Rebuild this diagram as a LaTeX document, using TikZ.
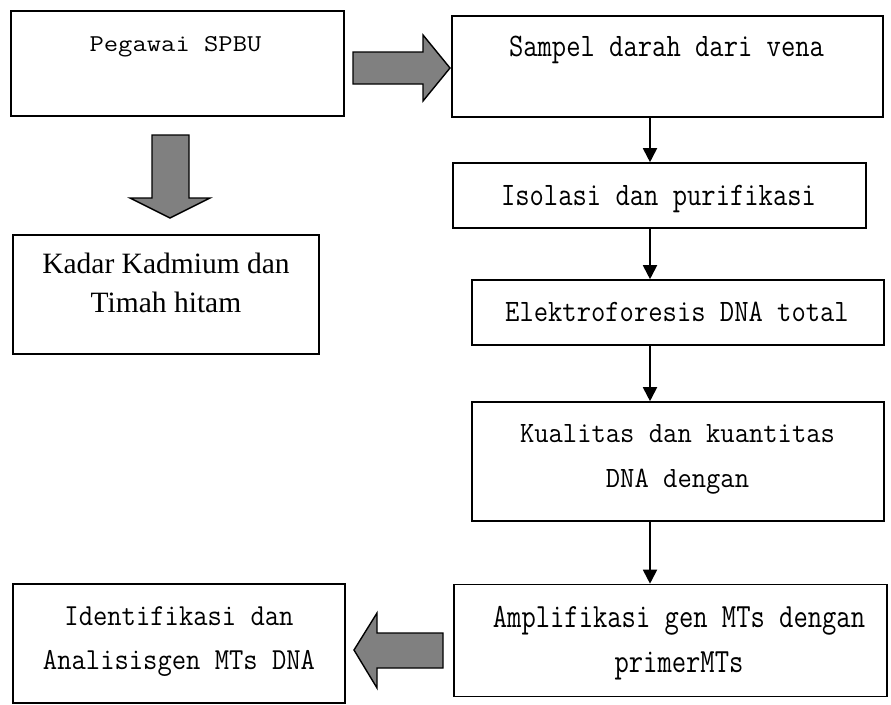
\documentclass[tikz,border=0pt]{standalone}
\usepackage{fontspec}
\newfontfamily\timesfont{Liberation Serif}
\usetikzlibrary{arrows.meta,calc}

% stretch text vertically
\newcommand{\tall}[2][1.18]{\scalebox{1}[#1]{#2}}

\definecolor{blockgray}{HTML}{808080}

\tikzset{
    box/.style={draw, line width=1.6pt, inner sep=0pt},
    txt/.style={anchor=base, inner sep=0pt, font=\ttfamily\fontsize{27.8}{34}\selectfont},
    serif/.style={anchor=base, inner sep=0pt, font=\timesfont\fontsize{29.5}{36}\selectfont},
    flow/.style={-{Triangle[width=14pt,length=14pt]}, line width=1.8pt},
    blockarrow/.style={draw, line width=1.4pt, fill=blockgray, line join=miter}
}

\begin{document}
\begin{tikzpicture}[x=1pt, y=-1pt]
    \useasboundingbox (0,0) rectangle (891,704);

    % === KIRI ===
    \node[box, minimum width=333pt, minimum height=105pt] (pegawai) at (177.5,63.5) {};
    \node[txt] (pegawai-t) at (175.5,51) {\tall[0.87]{Pegawai SPBU}};

    \node[box, minimum width=306pt, minimum height=119pt] (kadar) at (166,294.5) {};
    \node[serif] (kadar-a) at (166,273) {Kadar Kadmium dan};
    \node[serif] (kadar-b) at (166,312) {Timah hitam};

    \node[box, minimum width=332pt, minimum height=119pt] (ident) at (179,643.5) {};
    \node[txt] (ident-a) at (179,625) {\tall[1.1]{Identifikasi dan}};
    \node[txt] (ident-b) at (179,669) {\tall[1.1]{Analisisgen MTs DNA}};

    % === KANAN ===
    \node[box, minimum width=431pt, minimum height=101pt] (sampel) at (667.5,66.5) {};
    \node[txt] (sampel-t) at (666.5,56) {\tall{Sampel darah dari vena}};

    \node[box, minimum width=413pt, minimum height=65pt] (isolasi) at (659.5,195.5) {};
    \node[txt] (isolasi-t) at (658.5,205) {\tall{Isolasi dan purifikasi}};

    \node[box, minimum width=412pt, minimum height=65pt] (elektro) at (678,312.5) {};
    \node[txt] (elektro-t) at (677,321) {\tall[1.12]{Elektroforesis DNA total}};

    \node[box, minimum width=412pt, minimum height=119pt] (kualitas) at (678,461.5) {};
    \node[txt] (kualitas-a) at (677.5,442) {\tall[1.06]{Kualitas dan kuantitas}};
    \node[txt] (kualitas-b) at (677.5,487) {\tall[1.06]{DNA dengan}};

    \node[box, minimum width=433pt, minimum height=112pt] (amplif) at (670.5,640.5) {};
    \node[txt] (amplif-a) at (679,627) {\tall[1.22]{Amplifikasi gen MTs dengan}};
    \node[txt] (amplif-b) at (679,672) {\tall[1.22]{primerMTs}};

    % Flèches fines
    \coordinate (axis) at (650,0);
    \draw[flow] (sampel.south -| axis) -- (isolasi.north -| axis);
    \draw[flow] (isolasi.south -| axis) -- (elektro.north -| axis);
    \draw[flow] (elektro.south -| axis) -- (kualitas.north -| axis);
    \draw[flow] (kualitas.south -| axis) -- (amplif.north -| axis);

    % Flèches grises
    \draw[blockarrow] (353,52) -- (423,52) -- (423,35) -- (450,68) -- (423,101) -- (423,84) -- (353,84) -- cycle;
    \draw[blockarrow] (152,135) -- (189,135) -- (189,198) -- (210,198) -- (170,218) -- (130,198) -- (152,198) -- cycle;
    \draw[blockarrow] (443,633) -- (377,633) -- (377,613) -- (354,650) -- (377,688) -- (377,668) -- (443,668) -- cycle;
\end{tikzpicture}
\end{document}
